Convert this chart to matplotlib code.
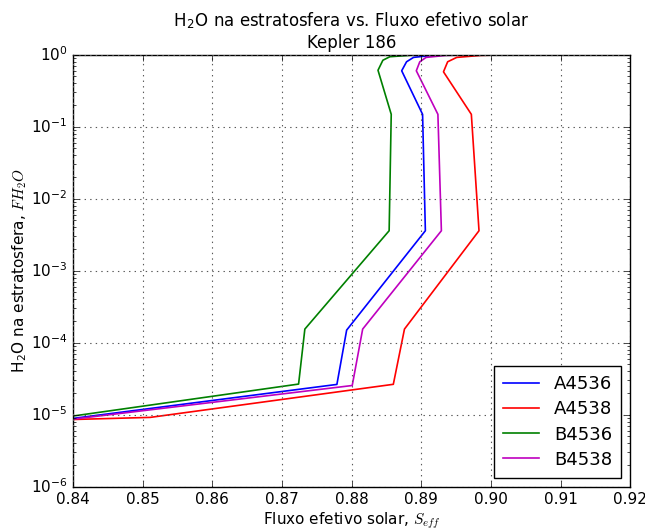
#!/usr/bin/env python3
"""
Stratospheric H2O fraction vs. effective solar flux, Kepler 186.
"""

import matplotlib
matplotlib.use("Agg")
import matplotlib.pyplot as plt

# curves (x = S_eff, y = FH2O)
a4536_x = [0.84, 0.8779, 0.8793, 0.8906, 0.8902, 0.8872, 0.8879, 0.8889, 0.8915, 0.8950]
a4536_y = [8.9e-6, 2.64e-5, 1.5e-4, 3.6e-3, 0.149, 0.60, 0.80, 0.92, 0.98, 1.0]

a4538_x = [0.84, 0.8511, 0.8860, 0.8876, 0.8983, 0.8972, 0.8932, 0.8938, 0.8951, 0.8985, 0.9020]
a4538_y = [8.6e-6, 9.2e-6, 2.65e-5, 1.55e-4, 3.6e-3, 0.149, 0.58, 0.80, 0.92, 0.98, 1.0]

b4536_x = [0.84, 0.8724, 0.8733, 0.8854, 0.8857, 0.8838, 0.8845, 0.8855, 0.8885, 0.8920]
b4536_y = [9.6e-6, 2.67e-5, 1.55e-4, 3.6e-3, 0.149, 0.61, 0.84, 0.94, 0.985, 1.0]

b4538_x = [0.84, 0.8801, 0.8816, 0.8929, 0.8924, 0.8893, 0.8898, 0.8907, 0.8935, 0.8975]
b4538_y = [8.7e-6, 2.55e-5, 1.55e-4, 3.6e-3, 0.149, 0.60, 0.80, 0.92, 0.98, 1.0]

series = [
    ("A4536", a4536_x, a4536_y, "b"),
    ("A4538", a4538_x, a4538_y, "r"),
    ("B4536", b4536_x, b4536_y, "g"),
    ("B4538", b4538_x, b4538_y, "m"),
]

plt.style.use("classic")
plt.rcParams["font.family"] = ["DejaVu Sans"]
plt.rcParams["mathtext.fontset"] = "cm"

fig = plt.figure(figsize=(6.45, 5.32), dpi=100, facecolor="white")
ax = fig.add_axes([0.113, 0.085, 0.864, 0.812])

for name, xs, ys, col in series:
    ax.plot(xs, ys, color=col, lw=1.2, label=name)

ax.set_yscale("log")
ax.set_xlim(0.84, 0.92)
ax.set_ylim(1e-6, 1e0)
ax.set_xticks([0.84, 0.85, 0.86, 0.87, 0.88, 0.89, 0.90, 0.91, 0.92])
ax.set_xticklabels(["0.84", "0.85", "0.86", "0.87", "0.88", "0.89", "0.90", "0.91", "0.92"])
ax.tick_params(labelsize=11)
ax.grid(True, which="major", linestyle=":", color="0.35", lw=0.8)

ax.set_title("H$_\\mathregular{2}$O na estratosfera vs. Fluxo efetivo solar\nKepler 186",
             fontsize=12)
ax.set_xlabel("Fluxo efetivo solar, $S_{eff}$", fontsize=11, labelpad=2)
ax.set_ylabel("H$_\\mathregular{2}$O na estratosfera, $FH_2O$", fontsize=11, labelpad=1)

leg = ax.legend(loc="lower right", fontsize=13, numpoints=1, handlelength=2.0,
                borderpad=0.5, labelspacing=0.4)
leg.get_frame().set_linewidth(1.0)

fig.savefig("out.png", dpi=100, facecolor="white")
